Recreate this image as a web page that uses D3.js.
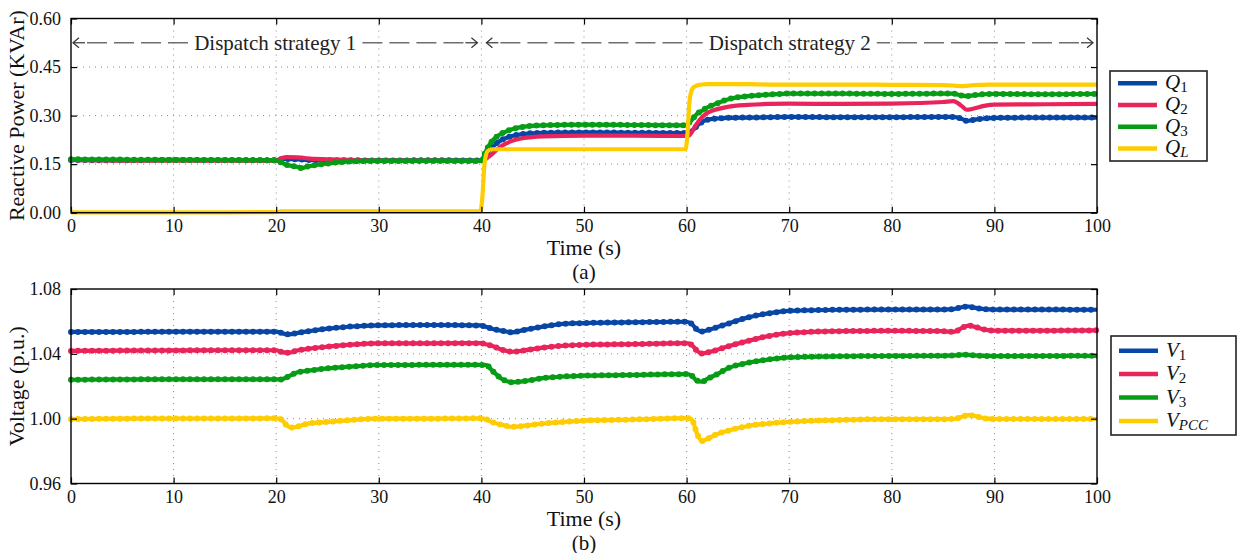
<!DOCTYPE html>
<html>
<head>
<meta charset="utf-8">
<script src="https://cdn.jsdelivr.net/npm/d3@7"></script>
<style>
  html, body { margin: 0; padding: 0; background: #fff; }
  svg { display: block; font-family: "Liberation Serif", "Times New Roman", serif; }
</style>
</head>
<body>
<svg id="chart" width="1237" height="553"></svg>
<script>
// ---- Panel (a): reactive power sharing ----
const timeA = [0, 5, 10, 15, 20, 20.5, 21, 22, 22.5, 23, 25, 27, 30, 35, 39.9, 40.1, 40.3, 40.6, 41, 41.5, 42, 43, 44, 46, 50, 55, 59.9, 60.1, 60.3, 60.6, 61, 61.5, 62, 63, 64, 66, 68, 70, 75, 80, 85, 86, 86.8, 87.3, 88, 89, 90, 95, 100];
const q1 = [0.163, 0.162, 0.163, 0.162, 0.162, 0.165, 0.166, 0.165, 0.164, 0.163, 0.162, 0.162, 0.161, 0.162, 0.161, 0.163, 0.170, 0.185, 0.200, 0.215, 0.225, 0.237, 0.243, 0.247, 0.248, 0.247, 0.246, 0.246, 0.248, 0.255, 0.268, 0.280, 0.287, 0.291, 0.293, 0.294, 0.295, 0.296, 0.295, 0.295, 0.296, 0.296, 0.290, 0.284, 0.287, 0.291, 0.293, 0.294, 0.294];
const q2 = [0.162, 0.161, 0.161, 0.161, 0.161, 0.168, 0.172, 0.171, 0.170, 0.168, 0.165, 0.163, 0.161, 0.161, 0.160, 0.160, 0.163, 0.170, 0.180, 0.195, 0.207, 0.222, 0.230, 0.236, 0.238, 0.238, 0.237, 0.237, 0.240, 0.255, 0.275, 0.295, 0.308, 0.320, 0.327, 0.333, 0.336, 0.337, 0.336, 0.337, 0.342, 0.345, 0.330, 0.318, 0.322, 0.330, 0.334, 0.335, 0.336];
const q3 = [0.165, 0.164, 0.163, 0.163, 0.162, 0.155, 0.148, 0.142, 0.138, 0.142, 0.152, 0.158, 0.160, 0.160, 0.160, 0.163, 0.180, 0.200, 0.220, 0.235, 0.245, 0.258, 0.265, 0.270, 0.272, 0.271, 0.270, 0.272, 0.280, 0.290, 0.305, 0.315, 0.325, 0.338, 0.350, 0.360, 0.365, 0.368, 0.368, 0.367, 0.368, 0.368, 0.362, 0.360, 0.363, 0.366, 0.367, 0.366, 0.367];
const qL = [0.001, 0.001, 0.001, 0.001, 0.002, 0.004, 0.004, 0.004, 0.004, 0.004, 0.004, 0.004, 0.004, 0.004, 0.004, 0.050, 0.150, 0.190, 0.196, 0.196, 0.196, 0.196, 0.196, 0.196, 0.196, 0.196, 0.196, 0.250, 0.350, 0.385, 0.393, 0.396, 0.397, 0.397, 0.397, 0.397, 0.396, 0.396, 0.396, 0.395, 0.394, 0.393, 0.391, 0.392, 0.394, 0.395, 0.396, 0.396, 0.396];
const ticksA = [0.00, 0.15, 0.30, 0.45, 0.60];

// ---- Panel (b): bus voltages ----
const timeB = [0, 5, 10, 15, 20, 20.5, 21, 21.5, 22, 23, 25, 27, 30, 35, 39.9, 40.5, 41, 42, 43, 44, 46, 48, 50, 55, 60, 60.5, 61, 61.5, 62, 63, 64, 66, 68, 70, 75, 80, 85, 86, 87, 87.5, 88, 89, 90, 95, 100];
const v1 = [1.0535, 1.0535, 1.0537, 1.0537, 1.0537, 1.0530, 1.0520, 1.0522, 1.0528, 1.0538, 1.0555, 1.0567, 1.0576, 1.0578, 1.0575, 1.0565, 1.0555, 1.0542, 1.0533, 1.0545, 1.0568, 1.0585, 1.0590, 1.0595, 1.0598, 1.0585, 1.0550, 1.0538, 1.0545, 1.0565, 1.0585, 1.0625, 1.0650, 1.0665, 1.0672, 1.0673, 1.0673, 1.0676, 1.0690, 1.0692, 1.0685, 1.0676, 1.0673, 1.0673, 1.0672];
const v2 = [1.0418, 1.0420, 1.0421, 1.0422, 1.0422, 1.0412, 1.0407, 1.0410, 1.0420, 1.0430, 1.0444, 1.0455, 1.0465, 1.0465, 1.0466, 1.0458, 1.0450, 1.0425, 1.0413, 1.0420, 1.0438, 1.0450, 1.0456, 1.0460, 1.0466, 1.0455, 1.0420, 1.0402, 1.0408, 1.0425, 1.0445, 1.0480, 1.0510, 1.0528, 1.0540, 1.0542, 1.0540, 1.0535, 1.0565, 1.0574, 1.0568, 1.0550, 1.0543, 1.0543, 1.0545];
const v3 = [1.0240, 1.0242, 1.0243, 1.0243, 1.0243, 1.0242, 1.0255, 1.0270, 1.0285, 1.0295, 1.0310, 1.0320, 1.0331, 1.0332, 1.0332, 1.0330, 1.0300, 1.0245, 1.0225, 1.0230, 1.0250, 1.0260, 1.0265, 1.0270, 1.0275, 1.0265, 1.0235, 1.0228, 1.0245, 1.0275, 1.0310, 1.0345, 1.0365, 1.0378, 1.0385, 1.0387, 1.0388, 1.0390, 1.0395, 1.0393, 1.0390, 1.0387, 1.0386, 1.0387, 1.0388];
const vPCC = [0.9997, 1.0000, 1.0001, 1.0001, 1.0002, 0.9995, 0.9960, 0.9945, 0.9950, 0.9968, 0.9980, 0.9990, 1.0000, 1.0000, 1.0002, 0.9995, 0.9980, 0.9962, 0.9950, 0.9955, 0.9970, 0.9980, 0.9988, 0.9995, 1.0003, 0.9995, 0.9910, 0.9862, 0.9875, 0.9905, 0.9925, 0.9955, 0.9970, 0.9980, 0.9992, 0.9997, 0.9997, 0.9998, 1.0015, 1.0022, 1.0018, 1.0003, 0.9998, 0.9998, 0.9998];
const ticksB = [0.96, 1.00, 1.04, 1.08];

const ticksX = [0, 10, 20, 30, 40, 50, 60, 70, 80, 90, 100];

// Strategy annotation spans (time, s) shown across panel (a)
const strategyLabels = ["Dispatch strategy 1", "Dispatch strategy 2"];
const strategyStart = [0, 40];
const strategyEnd = [40, 100];
const strategyLevel = 0.525;

const colors = { blue: "#0846a6", red: "#e9245a", green: "#079c16", yellow: "#ffcc00" };

const svg = d3.select("#chart");
const left = 71, right = 1097;
const x = d3.scaleLinear().domain([0, 100]).range([left, right]);

function panel(cfg) {
  const y = d3.scaleLinear().domain(cfg.yDomain).range([cfg.bottom, cfg.top]);
  const g = svg.append("g");

  // dotted grid
  g.append("g").selectAll("line").data(ticksX.slice(1, -1)).join("line")
    .attr("x1", d => x(d)).attr("x2", d => x(d))
    .attr("y1", cfg.top).attr("y2", cfg.bottom)
    .attr("stroke", "#8a8a8a").attr("stroke-width", 1).attr("stroke-dasharray", "1 5");
  g.append("g").selectAll("line").data(cfg.yTicks.slice(1, -1)).join("line")
    .attr("y1", d => y(d)).attr("y2", d => y(d))
    .attr("x1", left).attr("x2", right)
    .attr("stroke", "#8a8a8a").attr("stroke-width", 1).attr("stroke-dasharray", "1 5");

  // series; rippled traces get a beaded overlay along the same path
  const line = d3.line().x(d => x(d[0])).y(d => y(d[1])).curve(d3.curveMonotoneX);
  cfg.series.forEach(s => {
    const pts = cfg.time.map((t, i) => [t, s.values[i]]);
    g.append("path").attr("d", line(pts)).attr("fill", "none")
      .attr("stroke", s.color).attr("stroke-width", 4.2).attr("stroke-linejoin", "round");
    if (s.ripple) {
      g.append("path").attr("d", line(pts)).attr("fill", "none")
        .attr("stroke", s.color).attr("stroke-width", 6)
        .attr("stroke-linecap", "round").attr("stroke-dasharray", "0 7");
    }
  });

  // axes: ticks point inward on all four sides
  const tl = 6;
  const axB = d3.axisBottom(x).tickValues(ticksX).tickSizeInner(-tl).tickSizeOuter(0).tickPadding(7).tickFormat(d3.format("d"));
  const axT = d3.axisTop(x).tickValues(ticksX).tickSizeInner(-tl).tickSizeOuter(0).tickFormat("");
  const axL = d3.axisLeft(y).tickValues(cfg.yTicks).tickSizeInner(-tl).tickSizeOuter(0).tickPadding(10).tickFormat(d3.format(cfg.fmt));
  const axR = d3.axisRight(y).tickValues(cfg.yTicks).tickSizeInner(-tl).tickSizeOuter(0).tickFormat("");
  const style = sel => {
    sel.selectAll("path").remove();
    sel.selectAll("line").attr("stroke", "#000").attr("stroke-width", 1.2);
    sel.selectAll("text").attr("fill", "#111").style("font-size", "18px").attr("font-family", "Liberation Serif, serif");
  };
  g.append("g").attr("transform", `translate(0,${cfg.bottom})`).call(axB).call(style);
  g.append("g").attr("transform", `translate(0,${cfg.top})`).call(axT).call(style);
  g.append("g").attr("transform", `translate(${left},0)`).call(axL).call(style);
  g.append("g").attr("transform", `translate(${right},0)`).call(axR).call(style);

  // frame
  g.append("rect").attr("x", left).attr("y", cfg.top).attr("width", right - left).attr("height", cfg.bottom - cfg.top)
    .attr("fill", "none").attr("stroke", "#000").attr("stroke-width", 1.4);

  // titles
  g.append("text").attr("x", (left + right) / 2).attr("y", cfg.bottom + 42).attr("text-anchor", "middle")
    .style("font-size", "22px").attr("fill", "#111").text("Time (s)");
  g.append("text").attr("x", (left + right) / 2).attr("y", cfg.bottom + 66).attr("text-anchor", "middle")
    .style("font-size", "21px").attr("fill", "#111").text(cfg.caption);
  g.append("text").attr("transform", `translate(${24},${(cfg.top + cfg.bottom) / 2}) rotate(-90)`)
    .attr("text-anchor", "middle").style("font-size", "22px").attr("fill", "#111").text(cfg.yLabel);

  // legend
  const lg = svg.append("g").attr("transform", `translate(${cfg.legend.x},${cfg.legend.y})`);
  lg.append("rect").attr("width", cfg.legend.w).attr("height", cfg.legend.h)
    .attr("fill", "#fff").attr("stroke", "#222").attr("stroke-width", 1.6);
  cfg.series.forEach((s, i) => {
    const cy = cfg.legend.first + i * cfg.legend.step;
    lg.append("line").attr("x1", 8).attr("x2", 47).attr("y1", cy).attr("y2", cy)
      .attr("stroke", s.color).attr("stroke-width", 4.5);
    const t = lg.append("text").attr("x", 55).attr("y", cy + 6).attr("fill", "#111")
      .style("font-size", "21px").style("font-style", "italic");
    t.append("tspan").text(s.symbol);
    t.append("tspan").attr("dy", 3).style("font-size", "15px")
      .style("font-style", s.subItalic ? "italic" : "normal").text(s.sub);
  });
  return { g, y };
}

const pa = panel({
  top: 18.5, bottom: 212.7, yDomain: [0, 0.6], yTicks: ticksA, fmt: ".2f", time: timeA,
  yLabel: "Reactive Power (KVAr)", caption: "(a)",
  series: [
    { values: q1, color: colors.blue, symbol: "Q", sub: "1", ripple: true },
    { values: q2, color: colors.red, symbol: "Q", sub: "2", ripple: false },
    { values: q3, color: colors.green, symbol: "Q", sub: "3", ripple: true },
    { values: qL, color: colors.yellow, symbol: "Q", sub: "L", subItalic: true, ripple: false }
  ],
  legend: { x: 1110, y: 71, w: 97, h: 90, first: 12.3, step: 21.7 }
});

panel({
  top: 289, bottom: 483.5, yDomain: [0.96, 1.08], yTicks: ticksB, fmt: ".2f", time: timeB,
  yLabel: "Voltage (p.u.)", caption: "(b)",
  series: [
    { values: v1, color: colors.blue, symbol: "V", sub: "1", ripple: true },
    { values: v2, color: colors.red, symbol: "V", sub: "2", ripple: true },
    { values: v3, color: colors.green, symbol: "V", sub: "3", ripple: true },
    { values: vPCC, color: colors.yellow, symbol: "V", sub: "PCC", subItalic: true, ripple: true }
  ],
  legend: { x: 1111, y: 336, w: 125, h: 99, first: 14.7, step: 23.4 }
});

// strategy annotations: dashed double-ended arrows with centred label
const ay = pa.y(strategyLevel);
const ann = svg.append("g");
strategyLabels.forEach((label, i) => {
  const x0 = x(strategyStart[i]) + (i === 0 ? 2 : 5);
  const x1 = x(strategyEnd[i]) - 4;
  const cx = (x0 + x1) / 2;
  const txt = ann.append("text").attr("x", cx).attr("y", ay + 7).attr("text-anchor", "middle")
    .style("font-size", "21px").attr("fill", "#222").text(label);
  const half = txt.node().getComputedTextLength() / 2 + 6;
  // short solid shafts next to the arrow heads, then long dashes
  [[x0, cx - half, 1], [x1, cx + half, -1]].forEach(([tip, end, dir]) => {
    ann.append("line").attr("x1", tip).attr("x2", tip + dir * 12).attr("y1", ay).attr("y2", ay)
      .attr("stroke", "#333").attr("stroke-width", 1.2);
    ann.append("line").attr("x1", tip + dir * 14).attr("x2", end).attr("y1", ay).attr("y2", ay)
      .attr("stroke", "#6e6e6e").attr("stroke-width", 1.6).attr("stroke-dasharray", "20 7");
    ann.append("path")
      .attr("d", `M${tip + dir * 6},${ay - 5} L${tip},${ay} L${tip + dir * 6},${ay + 5}`)
      .attr("fill", "none").attr("stroke", "#333").attr("stroke-width", 1.2);
  });
});
</script>
</body>
</html>
